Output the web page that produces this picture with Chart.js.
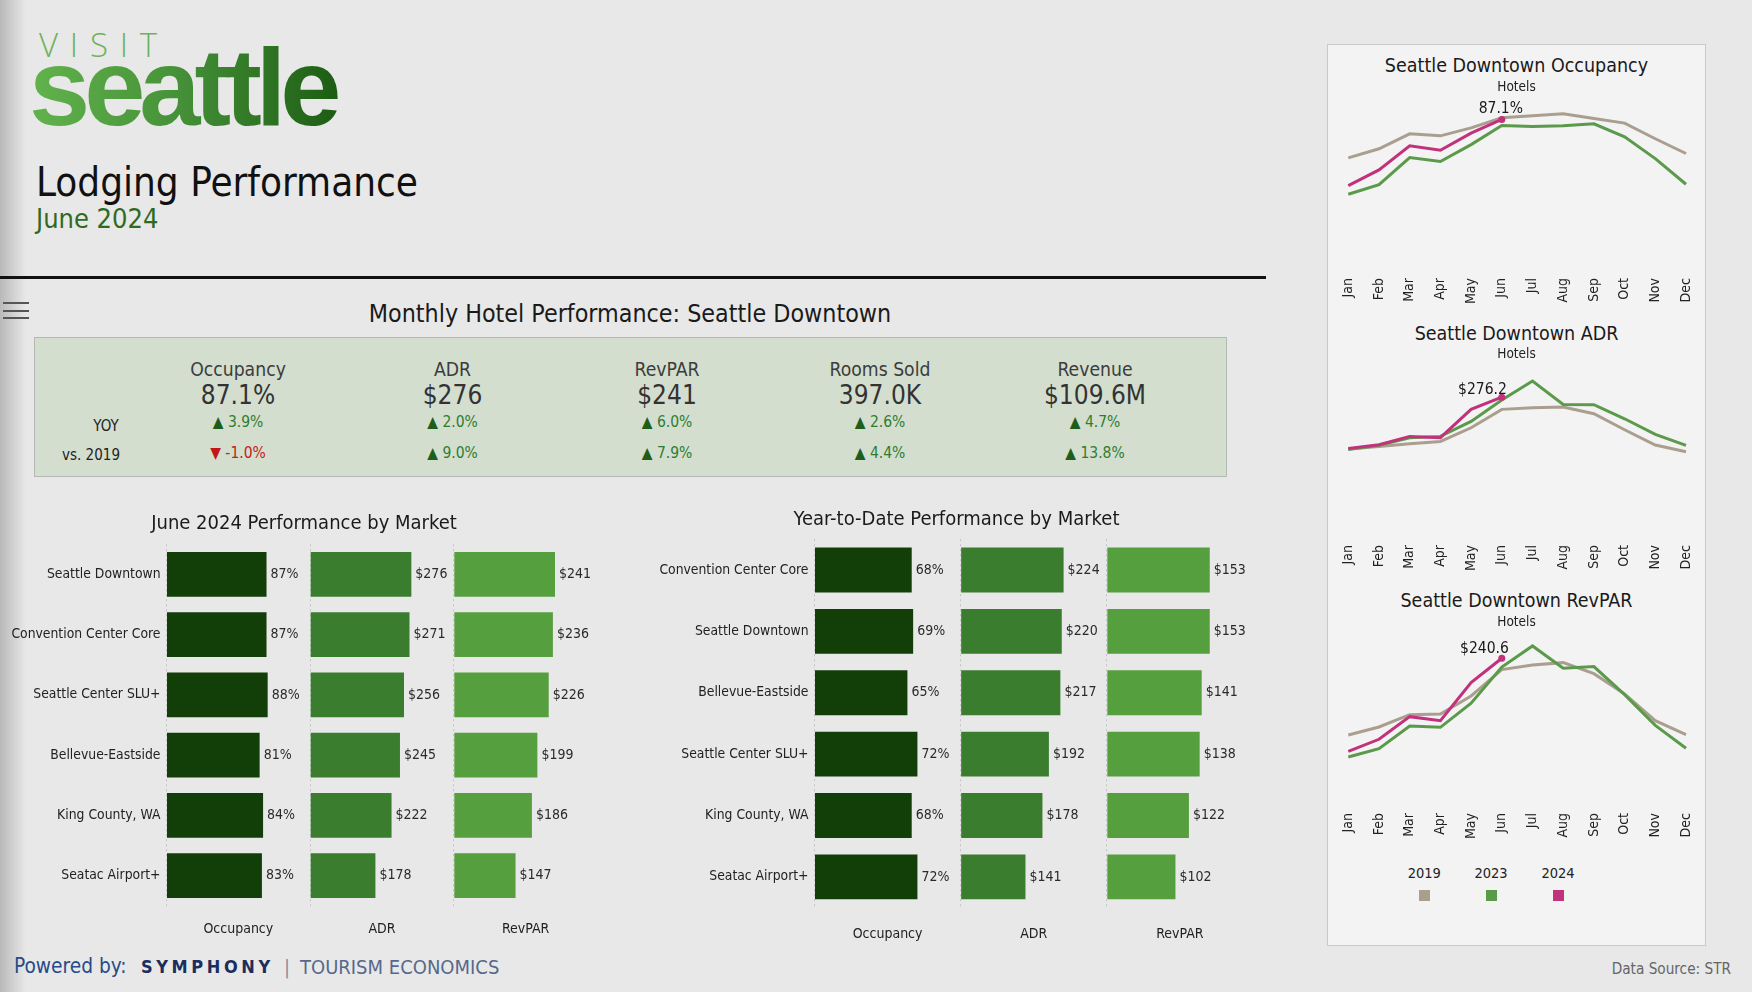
<!DOCTYPE html>
<html><head><meta charset="utf-8">
<script src="https://cdn.jsdelivr.net/npm/chart.js@4.4.1/dist/chart.umd.min.js"></script>
<style>
html,body{margin:0;padding:0;}
body{width:1752px;height:992px;position:relative;overflow:hidden;background:#e8e8e8;
 font-family:'DejaVu Sans Condensed','DejaVu Sans',sans-serif;color:#222;}
.abs{position:absolute;white-space:nowrap;}
canvas{position:absolute;}
#shadow{position:absolute;left:0;top:0;width:26px;height:992px;background:linear-gradient(90deg,#b9b9b9,#e8e8e8);}
#visit{position:absolute;left:39px;top:28px;font-family:'Open Sans','Lato',sans-serif;font-weight:300;font-size:33px;line-height:33px;letter-spacing:11.8px;color:#6cb25a;}
#seattle{position:absolute;left:29px;top:32px;font-family:'Liberation Sans',Arial,sans-serif;font-weight:bold;font-size:110px;line-height:110px;letter-spacing:-6px;
 background:linear-gradient(90deg,#62b34c 0%,#47933a 45%,#1b5b12 100%);-webkit-background-clip:text;background-clip:text;color:transparent;padding-right:8px;}
#rule{position:absolute;left:0;top:276px;width:1266px;height:3px;background:#111;}
.hb{position:absolute;left:3px;width:26px;height:2px;background:#555;}
#kpi{position:absolute;left:34px;top:337px;width:1191px;height:138px;background:#d3decf;border:1px solid #b5b9b3;}
#rightbox{position:absolute;left:1327px;top:44px;width:377px;height:900px;background:#f3f3f3;border:1px solid #c9c9c9;}
.sq{position:absolute;width:11px;height:11px;}
</style></head><body>
<div id="shadow"></div>
<div id="visit">VISIT</div>
<div id="seattle">seattle</div>
<div id="rule"></div>
<div class="hb" style="top:302px"></div><div class="hb" style="top:309.5px"></div><div class="hb" style="top:317px"></div>
<div id="kpi"></div>
<div id="rightbox"></div>
<canvas id="barJune" width="610" height="413" style="left:0px;top:530px"></canvas>
<canvas id="barYtd" width="660" height="423" style="left:620px;top:525px"></canvas>
<canvas id="lineOcc" width="375" height="232" style="left:1330px;top:85.7px"></canvas>
<canvas id="lineAdr" width="375" height="232" style="left:1330px;top:352.7px"></canvas>
<canvas id="lineRev" width="375" height="232" style="left:1330px;top:620.7px"></canvas>
<script>
const FONT = "'DejaVu Sans Condensed', 'DejaVu Sans', sans-serif";

// ---------------- DATA ----------------
const kpiMetrics = ['Occupancy', 'ADR', 'RevPAR', 'Rooms Sold', 'Revenue'];
const kpiValues = ['87.1%', '$276', '$241', '397.0K', '$109.6M'];
const kpiYoy = [3.9, 2.0, 6.0, 2.6, 4.7];
const kpiVs2019 = [-1.0, 9.0, 7.9, 4.4, 13.8];
const kpiRowLabels = ['YOY', 'vs. 2019'];

const juneMarkets = ['Seattle Downtown', 'Convention Center Core', 'Seattle Center SLU+', 'Bellevue-Eastside', 'King County, WA', 'Seatac Airport+'];
const juneOcc = [87, 87, 88, 81, 84, 83];
const juneAdr = [276, 271, 256, 245, 222, 178];
const juneRev = [241, 236, 226, 199, 186, 147];

const ytdMarkets = ['Convention Center Core', 'Seattle Downtown', 'Bellevue-Eastside', 'Seattle Center SLU+', 'King County, WA', 'Seatac Airport+'];
const ytdOcc = [68, 69, 65, 72, 68, 72];
const ytdAdr = [224, 220, 217, 192, 178, 141];
const ytdRev = [153, 153, 141, 138, 122, 102];

const barMetrics = ['Occupancy', 'ADR', 'RevPAR'];

const months = ['Jan', 'Feb', 'Mar', 'Apr', 'May', 'Jun', 'Jul', 'Aug', 'Sep', 'Oct', 'Nov', 'Dec'];
const years = ['2019', '2023', '2024'];
const occ2019 = [66.0, 71.0, 79.2, 78.1, 82.5, 88.0, 89.1, 90.2, 87.6, 85.1, 76.5, 68.4];
const occ2023 = [46.0, 51.3, 66.2, 64.0, 73.3, 83.8, 83.2, 83.6, 84.7, 77.6, 65.6, 51.5];
const occ2024 = [50.8, 59.4, 72.6, 70.2, 79.6, 87.1];
const adr2019 = [179.2, 184.2, 189.2, 193.5, 219.0, 253.4, 256.4, 257.6, 245.2, 215.3, 186.7, 174.2];
const adr2023 = [178.6, 186.1, 200.4, 202.9, 230.9, 270.8, 306.2, 262.6, 262.0, 235.8, 206.6, 186.1];
const adr2024 = [180.5, 187.3, 202.9, 200.4, 253.3, 276.2];
const rev2019 = [121.3, 133.7, 152.9, 154.0, 182.0, 223.0, 230.2, 233.8, 216.7, 185.1, 143.6, 121.8];
const rev2023 = [87.1, 100.1, 135.3, 133.2, 170.6, 227.0, 259.8, 225.1, 227.7, 184.0, 136.3, 100.6];
const rev2024 = [95.9, 114.6, 149.8, 143.6, 202.7, 240.6];

// ---------------- STYLES ----------------
const yearColors = ['#aa9f8f', '#5b9a4b', '#c2317c'];
const barColors = ['#123e08', '#3b7d2f', '#569f3f'];

// ---------------- HTML TEXT ----------------
function txt(text, x, cy, size, o = {}) {
  const d = document.createElement('div');
  d.className = 'abs';
  if (o.html) d.innerHTML = text; else d.textContent = text;
  d.style.fontSize = size + 'px';
  d.style.lineHeight = size + 'px';
  d.style.top = (cy - size / 2) + 'px';
  if (o.align === 'center') { d.style.left = x + 'px'; d.style.transform = 'translateX(-50%)'; }
  else if (o.align === 'right') { d.style.right = (1752 - x) + 'px'; }
  else d.style.left = x + 'px';
  d.style.color = o.color || '#222';
  if (o.weight) d.style.fontWeight = o.weight;
  if (o.family) d.style.fontFamily = o.family;
  if (o.ls) d.style.letterSpacing = o.ls;
  document.body.appendChild(d);
  return d;
}

txt('Lodging Performance', 36, 182, 40, {color: '#111'});
txt('June 2024', 36, 218.5, 27, {color: '#2f6b1f'});
txt('Monthly Hotel Performance: Seattle Downtown', 630, 314, 24.8, {align: 'center', color: '#1a1a1a'});

const kpiX = [238, 452.5, 667, 880, 1095];
function chg(v) {
  const up = v >= 0;
  const col = up ? '#2e7d2e' : '#c42020';
  const arr = up ? '▲' : '▼';
  return `<span style="color:${up ? '#1d5e1a' : '#c01818'}">${arr}</span> <span style="color:${col}">${v.toFixed(1)}%</span>`;
}
kpiMetrics.forEach((m, i) => {
  txt(m, kpiX[i], 369.5, 19.2, {align: 'center', color: '#3c3c3c'});
  txt(kpiValues[i], kpiX[i], 395, 26, {align: 'center', color: '#333'});
  txt(chg(kpiYoy[i]), kpiX[i], 422.7, 15.5, {align: 'center', html: true});
  txt(chg(kpiVs2019[i]), kpiX[i], 454, 15.5, {align: 'center', html: true});
});
txt(kpiRowLabels[0], 106, 426.5, 15, {align: 'center', color: '#222'});
txt(kpiRowLabels[1], 91, 455.5, 15, {align: 'center', color: '#222'});

txt('June 2024 Performance by Market', 304, 521.7, 20, {align: 'center', color: '#1a1a1a'});
txt('Year-to-Date Performance by Market', 956.5, 517.7, 20, {align: 'center', color: '#1a1a1a'});

// right panel titles
const lineTitles = ['Seattle Downtown Occupancy', 'Seattle Downtown ADR', 'Seattle Downtown RevPAR'];
const titleY = [66, 333.3, 601];
lineTitles.forEach((t, i) => {
  txt(t, 1516.5, titleY[i], 19.5, {align: 'center', color: '#1a1a1a'});
  txt('Hotels', 1516.5, titleY[i] + 20.3, 13.5, {align: 'center', color: '#222'});
});
// legend
const legX = [1424.3, 1491, 1558];
years.forEach((y, i) => {
  txt(y, legX[i], 873.3, 14.5, {align: 'center', color: '#222'});
  const s = document.createElement('div');
  s.className = 'sq';
  s.style.left = (legX[i] - 5.5) + 'px';
  s.style.top = (895 - 5.5) + 'px';
  s.style.background = yearColors[i];
  document.body.appendChild(s);
});

// footer
txt('Powered by:', 14, 966.5, 20.7, {color: '#274b8a'});
txt('SYMPHONY', 141, 966.5, 18, {color: '#1b2d5c', weight: 'bold', ls: '3.6px'});
txt('|', 284, 966.5, 20, {color: '#8a8f99'});
txt('TOURISM ECONOMICS', 300, 966.5, 20, {color: '#56688c'});
txt('Data Source: STR', 1731, 970, 15.2, {align: 'right', color: '#666'});

// ---------------- CHARTS ----------------
Chart.defaults.font.family = FONT;
Chart.defaults.color = '#333';

const barValueLabels = {
  id: 'barValueLabels',
  afterDatasetsDraw(chart) {
    const ctx = chart.ctx;
    ctx.save();
    ctx.font = '14px ' + FONT;
    ctx.fillStyle = '#2a2a2a';
    ctx.textBaseline = 'middle';
    ctx.textAlign = 'left';
    chart.data.datasets.forEach((ds, i) => {
      chart.getDatasetMeta(i).data.forEach((bar, j) => {
        ctx.fillText(ds.prefix + ds.data[j] + ds.suffix, bar.x + 4, bar.y);
      });
    });
    ctx.restore();
  }
};

function panelAxis(title, values, titlePad) {
  return {
    type: 'linear', position: 'bottom', stack: 'panels',
    min: 0, max: Math.max(...values) * 1.42,
    ticks: {display: false},
    grid: {drawTicks: false, lineWidth: 1,
      color: c => (c.tick && c.tick.value === 0) ? '#c2c2c2' : 'rgba(0,0,0,0)'},
    border: {display: false, dash: [2, 3]},
    title: {display: true, text: title, color: '#222', font: {size: 14}, padding: {top: titlePad, bottom: 4}}
  };
}

function barGroup(id, labels, occ, adr, rev, yWidth, pad, barPct, titlePad) {
  new Chart(document.getElementById(id), {
    type: 'bar',
    data: {
      labels: labels,
      datasets: [
        {data: occ, xAxisID: 'x0', backgroundColor: barColors[0], prefix: '', suffix: '%'},
        {data: adr, xAxisID: 'x1', backgroundColor: barColors[1], prefix: '$', suffix: ''},
        {data: rev, xAxisID: 'x2', backgroundColor: barColors[2], prefix: '$', suffix: ''}
      ]
    },
    options: {
      indexAxis: 'y', responsive: false, animation: false,
      layout: {padding: pad},
      datasets: {bar: {grouped: false, categoryPercentage: 1, barPercentage: barPct}},
      scales: {
        y: {
          afterFit: s => { s.width = yWidth; },
          grid: {display: false, drawTicks: false}, border: {display: false},
          ticks: {color: '#222', font: {size: 13.8}, padding: 6}
        },
        x0: panelAxis(barMetrics[0], occ, titlePad),
        x1: panelAxis(barMetrics[1], adr, titlePad),
        x2: panelAxis(barMetrics[2], rev, titlePad)
      },
      plugins: {legend: {display: false}, tooltip: {enabled: false}}
    },
    plugins: [barValueLabels]
  });
}

barGroup('barJune', juneMarkets, juneOcc, juneAdr, juneRev, 166.5, {top: 13.3, right: 12.5, bottom: 1, left: 0}, 0.745, 15.5);
barGroup('barYtd', ytdMarkets, ytdOcc, ytdAdr, ytdRev, 194.5, {top: 13, right: 27, bottom: 1, left: 0}, 0.73, 18.6);

function lastPointLabel(fmt, align, dx, dy) {
  return {
    id: 'lastPointLabel',
    afterDatasetsDraw(chart) {
      const meta = chart.getDatasetMeta(0);
      const pts = meta.data;
      const p = pts[pts.length - 1];
      const v = chart.data.datasets[0].data[pts.length - 1];
      const ctx = chart.ctx;
      ctx.save();
      ctx.font = '15.5px ' + FONT;
      ctx.fillStyle = '#1a1a1a';
      ctx.textAlign = align;
      ctx.textBaseline = 'alphabetic';
      ctx.fillText(fmt(v), p.x + dx, p.y + dy);
      ctx.restore();
    }
  };
}

function lineChart(id, d2019, d2023, d2024, yMax, fmt, align, dx, dy) {
  new Chart(document.getElementById(id), {
    type: 'line',
    data: {
      labels: months,
      datasets: [
        {label: years[2], data: d2024, borderColor: yearColors[2], backgroundColor: yearColors[2], order: 0,
         pointRadius: c => c.dataIndex === d2024.length - 1 ? 3.5 : 0, pointBorderWidth: 0},
        {label: years[1], data: d2023, borderColor: yearColors[1], order: 1, pointRadius: 0},
        {label: years[0], data: d2019, borderColor: yearColors[0], order: 2, pointRadius: 0}
      ]
    },
    options: {
      responsive: false, animation: false,
      layout: {padding: {top: 10, left: 18.3, right: 19, bottom: 0}},
      elements: {line: {borderWidth: 3, tension: 0}},
      scales: {
        x: {
          afterFit: s => { s.height = 40; },
          grid: {display: false, drawTicks: false}, border: {display: false},
          ticks: {maxRotation: 90, minRotation: 90, autoSkip: false, padding: 0, color: '#222', font: {size: 14}}
        },
        y: {display: false, min: 0, max: yMax}
      },
      plugins: {legend: {display: false}, tooltip: {enabled: false}}
    },
    plugins: [lastPointLabel(fmt, align, dx, dy)]
  });
}

lineChart('lineOcc', occ2019, occ2023, occ2024, 100, v => v.toFixed(1) + '%', 'center', -1, -6);
lineChart('lineAdr', adr2019, adr2023, adr2024, 340, v => '$' + v.toFixed(1), 'right', 5, -3);
lineChart('lineRev', rev2019, rev2023, rev2024, 283, v => '$' + v.toFixed(1), 'right', 7, -5);
</script>
</body></html>
